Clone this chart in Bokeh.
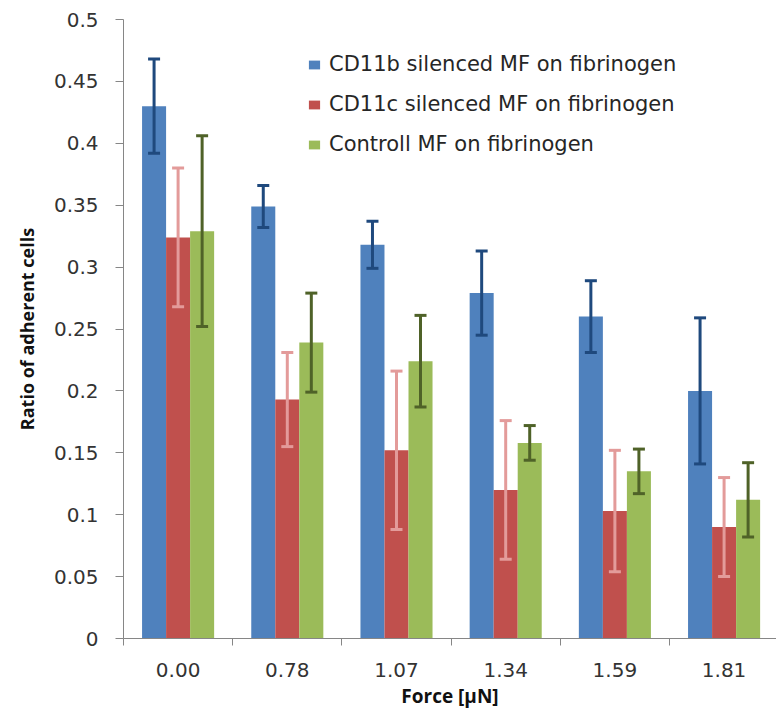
from bokeh.plotting import figure
from bokeh.models import (Range1d, FixedTicker, CustomJSTickFormatter, Whisker,
                          TeeHead, ColumnDataSource, Legend, LegendItem)
from bokeh.embed import file_html
from bokeh.resources import INLINE

# Applied force levels (category labels)
forces = ["0.00", "0.78", "1.07", "1.34", "1.59", "1.81"]

# Ratio of adherent cells and error (+/-) per series
cd11b = [0.430, 0.349, 0.318, 0.279, 0.260, 0.200]
cd11b_err = [0.038, 0.017, 0.019, 0.034, 0.029, 0.059]

cd11c = [0.324, 0.193, 0.152, 0.120, 0.103, 0.090]
cd11c_err = [0.056, 0.038, 0.064, 0.056, 0.049, 0.040]

ctrl = [0.329, 0.239, 0.224, 0.158, 0.135, 0.112]
ctrl_err = [0.077, 0.040, 0.037, 0.014, 0.018, 0.030]

series_names = ["CD11b silenced MF on fibrinogen",
                "CD11c silenced MF on fibrinogen",
                "Controll MF on fibrinogen"]

y_ticks = [0, 0.05, 0.1, 0.15, 0.2, 0.25, 0.3, 0.35, 0.4, 0.45, 0.5]

bar_colors = ["#4F81BD", "#C0504D", "#9BBB59"]
err_colors = ["#1F497D", "#E39B9A", "#4F6228"]

BAR_W = 0.22
offsets = [-BAR_W, 0.0, BAR_W]

p = figure(width=776, height=712,
           x_range=Range1d(0, 5.98), y_range=Range1d(0, 0.5),
           output_backend="svg", toolbar_location=None,
           min_border_left=123, min_border_right=0,
           min_border_top=19, min_border_bottom=74)

p.background_fill_color = "white"
p.border_fill_color = "white"
p.outline_line_color = None
p.xgrid.grid_line_color = None
p.ygrid.grid_line_color = None

legend_items = []
for vals, errs, name, off, bc, ec in zip(
        [cd11b, cd11c, ctrl], [cd11b_err, cd11c_err, ctrl_err],
        series_names, offsets, bar_colors, err_colors):
    xs = [i + 0.5 + off for i in range(len(forces))]
    src = ColumnDataSource(dict(
        x=xs, top=vals,
        upper=[v + e for v, e in zip(vals, errs)],
        lower=[v - e for v, e in zip(vals, errs)],
    ))
    r = p.vbar(x="x", top="top", width=BAR_W, source=src,
               fill_color=bc, line_color=None)
    legend_items.append(LegendItem(label=name, renderers=[r]))
    p.add_layout(Whisker(
        base="x", upper="upper", lower="lower", source=src,
        level="annotation",
        line_color=ec, line_width=3,
        upper_head=TeeHead(size=12, line_color=ec, line_width=3),
        lower_head=TeeHead(size=12, line_color=ec, line_width=3),
    ))

# x axis: labels at group centres, separator ticks between groups
p.xaxis.ticker = FixedTicker(ticks=[i + 0.5 for i in range(len(forces))],
                             minor_ticks=list(range(len(forces) + 1)))
p.xaxis.formatter = CustomJSTickFormatter(
    args=dict(labels=forces), code="return labels[Math.floor(tick)];")
p.xaxis.axis_line_color = "#868686"
p.xaxis.major_tick_line_color = None
p.xaxis.major_tick_out = 0
p.xaxis.major_tick_in = 0
p.xaxis.minor_tick_line_color = "#868686"
p.xaxis.minor_tick_out = 7
p.xaxis.minor_tick_in = 0
p.xaxis.major_label_standoff = 17
p.xaxis.major_label_text_font = "DejaVu Sans"
p.xaxis.major_label_text_font_size = "20px"
p.xaxis.major_label_text_color = "#333333"
p.xaxis.axis_label = "Force [\u03bcN]"
p.xaxis.axis_label_text_font = "Open Sans"
p.xaxis.axis_label_text_font_style = "bold"
p.xaxis.axis_label_text_font_size = "19px"
p.xaxis.axis_label_text_color = "#111111"
p.xaxis.axis_label_standoff = 3

# y axis
p.yaxis.ticker = FixedTicker(ticks=y_ticks, minor_ticks=[])
p.yaxis.formatter = CustomJSTickFormatter(
    code="return Number(tick.toFixed(2)).toString();")
p.yaxis.axis_line_color = "#868686"
p.yaxis.major_tick_line_color = "#868686"
p.yaxis.major_tick_out = 8
p.yaxis.major_tick_in = 0
p.yaxis.minor_tick_out = 0
p.yaxis.major_label_standoff = 17
p.yaxis.major_label_text_font = "DejaVu Sans"
p.yaxis.major_label_text_font_size = "20px"
p.yaxis.major_label_text_color = "#333333"
p.yaxis.axis_label = "Ratio of adherent cells"
p.yaxis.axis_label_text_font = "Open Sans"
p.yaxis.axis_label_text_font_style = "bold"
p.yaxis.axis_label_text_font_size = "18px"
p.yaxis.axis_label_text_color = "#111111"
p.yaxis.axis_label_standoff = 12

legend = Legend(items=legend_items, location=(184, 482),
                glyph_width=14, glyph_height=11,
                label_text_font="DejaVu Sans", label_text_font_size="21px",
                label_text_color="#262626", label_standoff=8,
                spacing=16, padding=0, margin=0,
                border_line_color=None, background_fill_alpha=0)
p.add_layout(legend)

open("out.html", "w").write(file_html(p, INLINE))
